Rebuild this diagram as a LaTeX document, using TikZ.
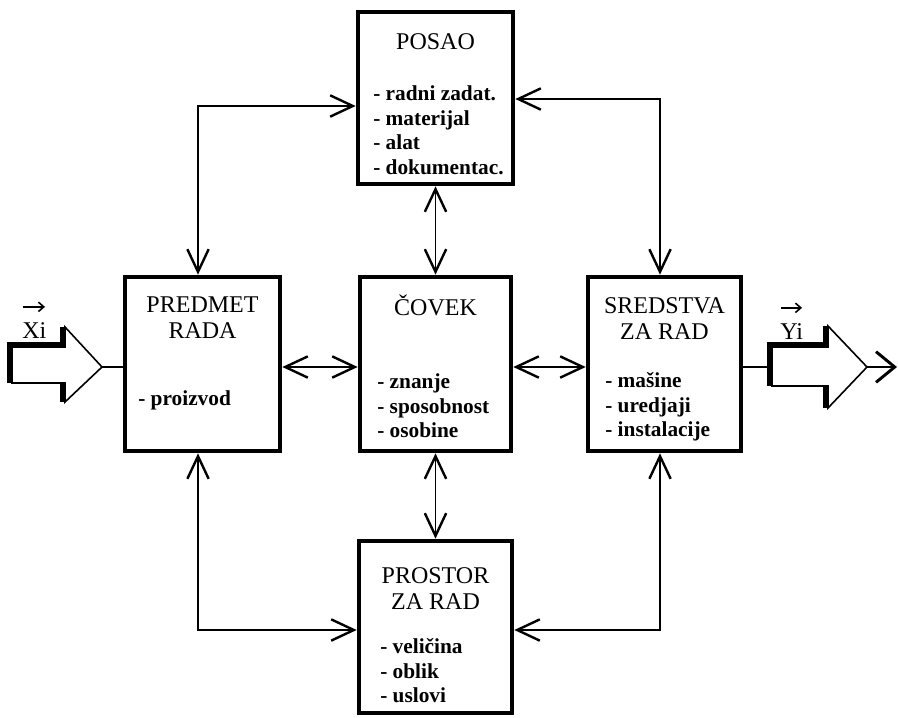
\documentclass[tikz,border=0pt]{standalone}
\usepackage{fontspec}
\setmainfont{Liberation Serif}
\usetikzlibrary{arrows.meta}

\begin{document}
\begin{tikzpicture}[x=0.75pt,y=-0.75pt,
  box/.style={draw, line width=3.5pt, inner sep=0pt, line join=miter},
  conn/.style={line width=1.3pt,
    {Straight Barb[length=17pt,width=16pt,line width=1.8pt]}-{Straight Barb[length=17pt,width=16pt,line width=1.8pt]}},
  outarrow/.style={line width=1.3pt, -{Straight Barb[length=14pt,width=23pt,line width=2.2pt]}},
  titletext/.style={inner sep=0pt, align=center, font=\fontsize{18}{19.8}\selectfont},
  itemtext/.style={inner sep=0pt, align=left, font=\bfseries\fontsize{16}{18.4}\selectfont},
  labtext/.style={inner sep=0pt, font=\fontsize{18}{20}\selectfont},
  vecarrow/.style={line width=1.1pt, -{Straight Barb[length=4pt,width=7pt,line width=1.2pt]}},
  thinedge/.style={line width=1.2pt, line join=miter},
  thickedge/.style={line width=5pt, line join=miter, line cap=butt},
]
\useasboundingbox (0,0) rectangle (898,717);

% ---- boxes ----
\node[box, minimum width=116.25pt, minimum height=129pt]   (posao)    at (435.5,98)  {};
\node[box, minimum width=116.25pt, minimum height=130.5pt] (predmet)  at (202.5,364) {};
\node[box, minimum width=113.25pt, minimum height=130.5pt] (covek)    at (435.5,364) {};
\node[box, minimum width=114.75pt, minimum height=130.5pt] (sredstva) at (664.5,364) {};
\node[box, minimum width=114.75pt, minimum height=129pt]   (prostor)  at (435.5,627) {};

% ---- box texts ----
\node[titletext, anchor=base] (posaoT) at (435.5,50) {POSAO};
\node[itemtext, anchor=north west] (posaoL) at (373,85.5)
  {- radni zadat.\\- materijal\\- alat\\- dokumentac.};

\node[titletext, anchor=north] (predmetT) at (202.5,296.2) {PREDMET\\RADA};
\node[itemtext, anchor=base west] (predmetL) at (138,405) {- proizvod};

\node[titletext, anchor=base] (covekT) at (435.5,315) {ČOVEK};
\node[itemtext, anchor=north west] (covekL) at (377,373.5)
  {- znanje\\- sposobnost\\- osobine};

\node[titletext, anchor=north] (sredstvaT) at (664.5,297.2) {SREDSTVA\\ZA RAD};
\node[itemtext, anchor=north west] (sredstvaL) at (605,372.2)
  {- mašine\\- uredjaji\\- instalacije};

\node[titletext, anchor=north] (prostorT) at (435.5,567.2) {PROSTOR\\ZA RAD};
\node[itemtext, anchor=north west] (prostorL) at (380,638.5)
  {- veličina\\- oblik\\- uslovi};

% ---- connectors ----
\coordinate (c1) at (198,106);
\coordinate (c2) at (660,99);
\coordinate (c3) at (198,630);
\coordinate (c4) at (660,630);
\coordinate (mid) at (435.5,367);

\draw[conn] (posao.west |- c1) -- (c1) -- (c1 |- predmet.north);
\draw[conn] (posao.east |- c2) -- (c2) -- (c2 |- sredstva.north);
\draw[conn] (posao.south) -- (covek.north);
\draw[conn] (covek.south) -- (prostor.north);
\draw[conn] (predmet.east |- mid) -- (covek.west |- mid);
\draw[conn] (covek.east |- mid) -- (sredstva.west |- mid);
\draw[conn] (predmet.south -| c3) -- (c3) -- (c3 -| prostor.west);
\draw[conn] (sredstva.south -| c4) -- (c4) -- (c4 -| prostor.east);

% ---- input block arrow ----
\draw[thinedge] (12,347) -- (65,347) -- (65,327) -- (102,367) -- (65,402)
  -- (65,383) -- (12,383) -- cycle;
\draw[thickedge] (10,383) -- (10,345) -- (63,345) -- (63,327);
\draw[thickedge] (63,383) -- (63,402);
\coordinate (xtip) at (102,367);
\draw[line width=1.3pt] (xtip) -- (xtip -| predmet.west);
\node[labtext, anchor=base west] (xlab) at (22,338) {Xi};
\draw[vecarrow] ([shift={(1,-15)}]xlab.north west) -- ([shift={(23,-15)}]xlab.north west);

% ---- output block arrow ----
\draw[thinedge] (772,347) -- (828,347) -- (828,326) -- (867,367) -- (828,408)
  -- (828,386) -- (772,386) -- cycle;
\draw[thickedge] (770,386) -- (770,345) -- (826,345) -- (826,326);
\draw[thickedge] (826,386) -- (826,408);
\coordinate (yin) at (772,367);
\coordinate (ytip) at (867,367);
\coordinate (yend) at (897,367);
\draw[line width=1.3pt] (sredstva.east |- yin) -- (yin);
\draw[outarrow] (ytip) -- (yend);
\node[labtext, anchor=base west] (ylab) at (780,339) {Yi};
\draw[vecarrow] ([shift={(1,-15)}]ylab.north west) -- ([shift={(22,-15)}]ylab.north west);
\end{tikzpicture}
\end{document}
